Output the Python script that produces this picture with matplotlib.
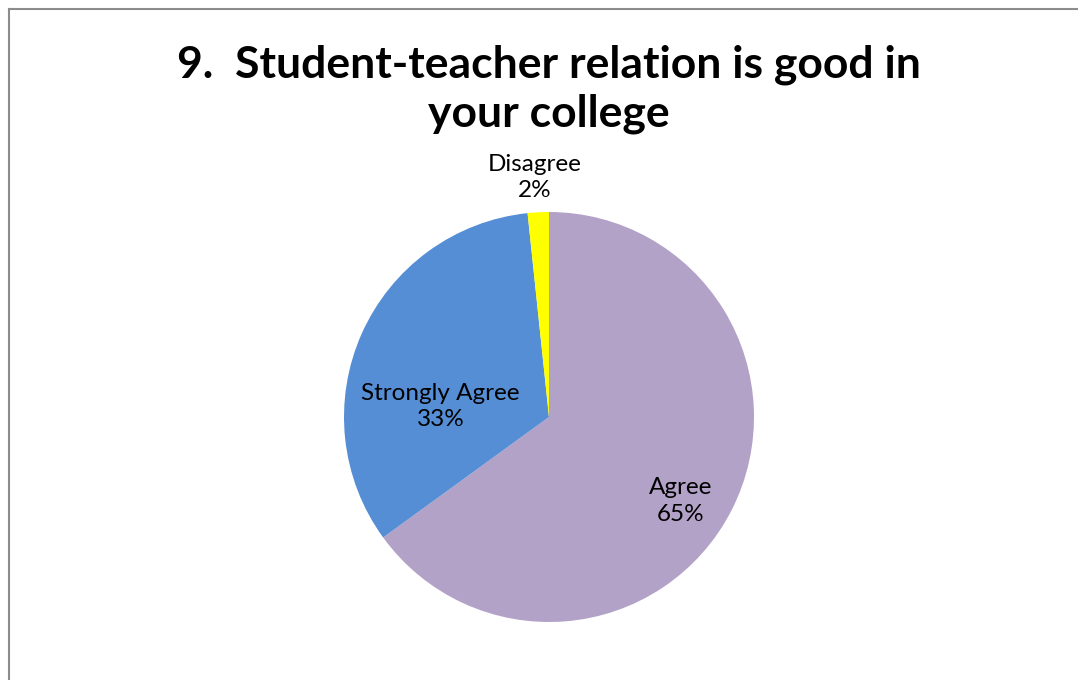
import matplotlib.pyplot as plt
from matplotlib.lines import Line2D

# survey responses (counts)
categories = ['Agree', 'Strongly Agree', 'Disagree']
counts = [39, 20, 1]
colors = ['#B3A2C7', '#558ED5', '#FFFF00']

title = '9.  Student-teacher relation is good in\nyour college'

fig = plt.figure(figsize=(10.78, 6.80), dpi=100)
fig.patch.set_facecolor('white')

# chart border (only left and top show in the crop)
bx, by = 8.5/1078, 1 - 8.5/680
fig.lines.append(Line2D([bx, bx], [0, by], transform=fig.transFigure, color='#8c8c8c', lw=1.5))
fig.lines.append(Line2D([bx, 1], [by, by], transform=fig.transFigure, color='#8c8c8c', lw=1.5))

ax = fig.add_axes([(549-205)/1078, (680-622)/680, 410/1078, 410/680])
wedges, _ = ax.pie(counts, colors=colors, startangle=90, counterclock=False,
                   wedgeprops=dict(linewidth=0))
ax.set_xlim(-1, 1)
ax.set_ylim(-1, 1)
ax.set_aspect('equal')
ax.axis('off')

total = sum(counts)
label_pos = [(0.64, -0.41), (-0.53, 0.05), (-0.07, 1.17)]
for cat, c, (x, y) in zip(categories, counts, label_pos):
    ax.text(x, y, '%s\n%d%%' % (cat, round(100 * c / total)), ha='center', va='center',
            fontsize=17.5, family='Lato', linespacing=1.3, clip_on=False)

fig.text(549/1078, 1 - 89/680, title, ha='center', va='center', fontsize=32,
         fontweight='bold', family='Lato', linespacing=1.25)

fig.savefig('out.png', dpi=100)
